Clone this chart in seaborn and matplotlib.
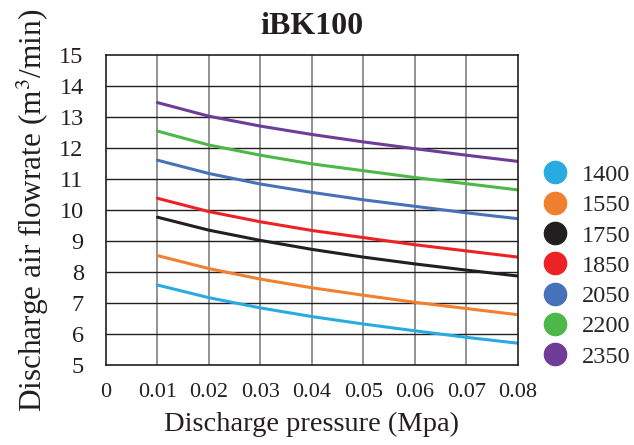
import numpy as np
import pandas as pd
import seaborn as sns
import matplotlib.pyplot as plt
from matplotlib.lines import Line2D

# values
pressure = [0.01, 0.02, 0.03, 0.04, 0.05, 0.06, 0.07, 0.08]
speeds = ['1400', '1550', '1750', '1850', '2050', '2200', '2350']
flow_1400 = [7.58, 7.17, 6.84, 6.56, 6.32, 6.10, 5.89, 5.70]
flow_1550 = [8.53, 8.11, 7.77, 7.49, 7.25, 7.02, 6.82, 6.62]
flow_1750 = [9.77, 9.35, 9.02, 8.73, 8.48, 8.26, 8.06, 7.87]
flow_1850 = [10.38, 9.95, 9.62, 9.34, 9.11, 8.88, 8.68, 8.48]
flow_2050 = [11.61, 11.18, 10.84, 10.57, 10.33, 10.12, 9.91, 9.72]
flow_2200 = [12.55, 12.10, 11.77, 11.49, 11.27, 11.05, 10.85, 10.65]
flow_2350 = [13.47, 13.03, 12.71, 12.44, 12.20, 11.98, 11.77, 11.57]
colors = ['#29ABE2', '#F0802F', '#231F20', '#ED2224', '#4772B9', '#4DB748', '#6F3C97']

x_ticks = [0, 0.01, 0.02, 0.03, 0.04, 0.05, 0.06, 0.07, 0.08]
x_ticklabels = ['0', '0.01', '0.02', '0.03', '0.04', '0.05', '0.06', '0.07', '0.08']
y_ticks = list(range(5, 16))


if __name__ == '__main__':
    all_flows = [flow_1400, flow_1550, flow_1750, flow_1850, flow_2050, flow_2200, flow_2350]
    rows = []
    for speed, flows in zip(speeds, all_flows):
        for p, q in zip(pressure, flows):
            rows.append({'pressure': p, 'flow': q, 'speed': speed})
    df = pd.DataFrame(rows)

    sns.set_style('white')
    plt.rcParams['font.family'] = ['Liberation Serif', 'DejaVu Serif']
    plt.rcParams['mathtext.fontset'] = 'stix'

    f, ax = plt.subplots(figsize=(6.34, 4.45), dpi=100)
    f.subplots_adjust(left=0.167, right=0.817, top=0.876, bottom=0.180)

    # grid: vertical lines grey, horizontal lines black
    for xv in x_ticks[1:-1]:
        ax.axvline(xv, color='#8a8a8a', lw=1.3, zorder=0)
    for yv in y_ticks[1:-1]:
        ax.axhline(yv, color='#231F20', lw=1.0, zorder=0)

    sns.lineplot(df, x='pressure', y='flow', hue='speed', palette=colors, hue_order=speeds,
                 linewidth=2.2, legend=False, ax=ax)

    ax.set(xlim=(0, 0.08), ylim=(5, 15))
    ax.set_xticks(x_ticks)
    ax.set_xticklabels(x_ticklabels)
    ax.set_yticks(y_ticks)
    ax.tick_params(axis='both', length=0, colors='#231F20')
    ax.tick_params(axis='y', pad=16, labelsize=17.5)
    ax.tick_params(axis='x', pad=13, labelsize=16)
    for s in ax.spines.values():
        s.set_visible(True)
        s.set_color('#231F20')
        s.set_linewidth(1.2)

    ax.set_xlabel('Discharge pressure (Mpa)', fontsize=20.5, color='#231F20', labelpad=7)
    ax.set_ylabel('Discharge air flowrate (m$^3$/min)', fontsize=22.5, color='#231F20', labelpad=6)
    ax.set_title('iBK100', fontsize=23, fontweight='bold', color='#231F20', pad=15)

    handles = [Line2D([], [], marker='o', linestyle='', markersize=16, color=c) for c in colors]
    ax.legend(handles, speeds, loc='center left', bbox_to_anchor=(1.037, 0.32), frameon=False,
              fontsize=17.5, handlelength=1.0, handletextpad=0.6, labelspacing=0.34, borderaxespad=0)

    plt.savefig('out.png', dpi=100)
